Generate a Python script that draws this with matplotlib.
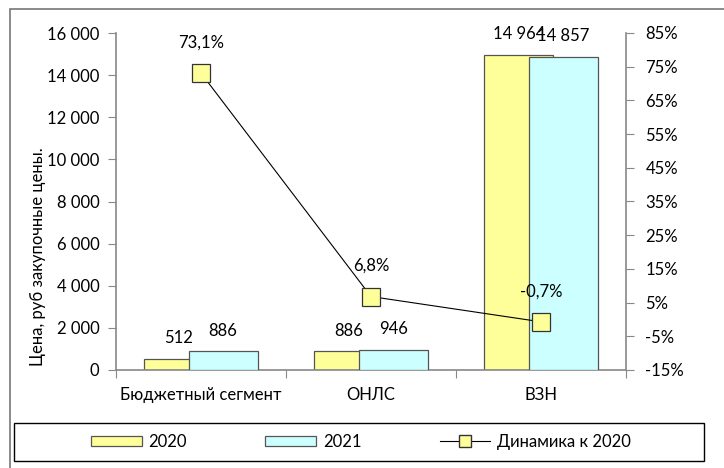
import matplotlib.pyplot as plt
from matplotlib.patches import Rectangle
from matplotlib.lines import Line2D
import numpy as np

plt.rcParams['font.family'] = ['Lato', 'DejaVu Sans']

# Data
categories = ["Бюджетный сегмент", "ОНЛС", "ВЗН"]
values_2020 = [512, 886, 14964]
values_2021 = [886, 946, 14857]
dynamics = [73.1, 6.8, -0.7]

c2020 = "#FFFF99"
c2021 = "#CCFFFF"
W, H = 724, 468
fs = 12

fig = plt.figure(figsize=(W / 100, H / 100), dpi=100)
ax = fig.add_axes([116 / W, (H - 370) / H, 510 / W, 337 / H])
ax2 = ax.twinx()


def fmt_thousands(v):
    return f"{int(round(v)):,}".replace(",", " ")


x = np.arange(len(categories))
bw = 0.406
off = 0.13
ax.bar(x - off, values_2020, bw, color=c2020, edgecolor="#555555", lw=0.9, zorder=2)
ax.bar(x + off, values_2021, bw, color=c2021, edgecolor="#555555", lw=0.9, zorder=3)

for xi, v in zip(x - off, values_2020):
    ax.annotate(fmt_thousands(v), (xi, v), xytext=(0, 15), textcoords="offset points",
                ha="center", va="center", fontsize=fs, zorder=5)
for xi, v in zip(x + off, values_2021):
    ax.annotate(fmt_thousands(v), (xi, v), xytext=(0, 15), textcoords="offset points",
                ha="center", va="center", fontsize=fs, zorder=5)

ax.set_xlim(-0.5, 2.5)
ax.set_ylim(0, 16000)
ax.set_yticks(np.arange(0, 16001, 2000))
ax.set_yticklabels([fmt_thousands(v) for v in np.arange(0, 16001, 2000)], fontsize=fs)
ax.set_xticks([-0.5, 0.5, 1.5, 2.5], minor=False)
ax.set_xticklabels([])
ax.set_xticks(x, minor=True)
ax.set_xticklabels(categories, minor=True, fontsize=fs)
ax.tick_params(axis="x", which="minor", length=0, pad=12)
ax.tick_params(axis="x", which="major", length=6, color="#888888", direction="out")
ax.tick_params(axis="y", length=6, color="#888888", direction="out", pad=6)

for s in ["top", "right"]:
    ax.spines[s].set_visible(False)
for s in ["left", "bottom"]:
    ax.spines[s].set_color("#888888")
    ax.spines[s].set_linewidth(1.2)

# Dynamics line on secondary axis
ax2.plot(x, dynamics, color="black", lw=0.8, marker="s", markersize=13.5,
         markerfacecolor=c2020, markeredgecolor="#333333", markeredgewidth=0.9, zorder=6)
for xi, v in zip(x, dynamics):
    ax2.annotate(f"{v:.1f}%".replace(".", ","), (xi, v), xytext=(0, 22),
                 textcoords="offset points", ha="center", va="center", fontsize=fs)
ax2.set_ylim(-15, 85)
ax2.set_yticks(np.arange(-15, 86, 10))
ax2.set_yticklabels([f"{v}%" for v in np.arange(-15, 86, 10)], fontsize=fs)
ax2.tick_params(axis="y", length=6, color="#888888", direction="out", pad=8)
for s in ["top", "left", "bottom"]:
    ax2.spines[s].set_visible(False)
ax2.spines["right"].set_color("#888888")
ax2.spines["right"].set_linewidth(1.2)

fig.text(38 / W, (H - 257) / H, "Цена, руб закупочные цены.", rotation=90,
         ha="center", va="center", fontsize=fs)

# Outer chart border
fig.patches.append(Rectangle((10 / W, -0.1), 1.0, (H - 9) / H + 0.1, transform=fig.transFigure,
                             fill=False, ec="#777777", lw=1.2))

# Legend frame
fig.patches.append(Rectangle((14 / W, (H - 461) / H), 690 / W, 38 / H, transform=fig.transFigure,
                             fill=False, ec="black", lw=1.0))
handles = [
    Rectangle((0, 0), 1, 1, fc=c2020, ec="#555555", lw=0.9),
    Rectangle((0, 0), 1, 1, fc=c2021, ec="#555555", lw=0.9),
    Line2D([], [], color="black", lw=0.8, marker="s", markersize=8,
           markerfacecolor=c2020, markeredgecolor="#333333"),
]
fig.legend(handles, ["2020", "2021", "Динамика к 2020"], loc="center",
           bbox_to_anchor=(361 / W, (H - 442) / H), ncol=3, frameon=False, fontsize=fs,
           handlelength=3.05, handleheight=0.6, handletextpad=0.4, columnspacing=4.7)

fig.savefig("out.png", dpi=100)
